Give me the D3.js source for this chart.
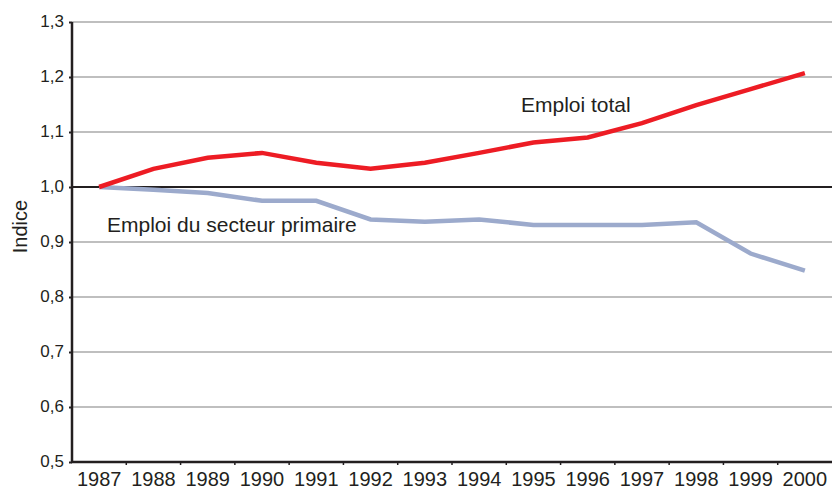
<!DOCTYPE html>
<html>
<head>
<meta charset="utf-8">
<script src="https://cdn.jsdelivr.net/npm/d3@7"></script>
<style>
  body { margin: 0; background: #fff; }
  text { font-family: "Liberation Sans", Arial, sans-serif; fill: #231f20; }
</style>
</head>
<body>
<div id="chart"></div>
<script>
var years = ["1987","1988","1989","1990","1991","1992","1993","1994","1995","1996","1997","1998","1999","2000"];
var emploiTotal = [1.000, 1.033, 1.053, 1.062, 1.044, 1.033, 1.044, 1.062, 1.081, 1.090, 1.116, 1.149, 1.178, 1.207];
var emploiPrimaire = [1.000, 0.995, 0.989, 0.975, 0.975, 0.941, 0.937, 0.941, 0.931, 0.931, 0.931, 0.936, 0.879, 0.848];
var yTicks = [0.5, 0.6, 0.7, 0.8, 0.9, 1.0, 1.1, 1.2, 1.3];

(function () {
  'use strict'

  var margin = {top: 22, right: 7, bottom: 33, left: 72},
      width = 839 - margin.left - margin.right,
      height = 495 - margin.top - margin.bottom;

  var svg = d3.select("#chart").append("svg")
      .attr("width", 839)
      .attr("height", 495)
      .append("g")
      .attr("transform", "translate(" + margin.left + "," + margin.top + ")");

  var x = d3.scaleBand().domain(years).range([0, width]);
  var y = d3.scaleLinear().domain([0.5, 1.3]).range([height, 0]);

  // gridlines
  svg.append("g")
    .selectAll("line")
    .data(yTicks.filter(function(d){ return d > 0.5; }))
    .enter().append("line")
    .attr("x1", 0)
    .attr("x2", width)
    .attr("y1", function(d){ return y(d); })
    .attr("y2", function(d){ return y(d); })
    .attr("stroke", function(d){ return d === 1.0 ? "#231f20" : "#808080"; })
    .attr("stroke-width", function(d){ return d === 1.0 ? 2 : 1.2; });

  var line = d3.line()
    .x(function(d, i){ return x(years[i]) + x.bandwidth()/2; })
    .y(function(d){ return y(d); });

  svg.append("path")
    .datum(emploiPrimaire)
    .attr("d", line)
    .attr("fill", "none")
    .attr("stroke", "#9caacc")
    .attr("stroke-width", 4.5);

  svg.append("path")
    .datum(emploiTotal)
    .attr("d", line)
    .attr("fill", "none")
    .attr("stroke", "#ed1c24")
    .attr("stroke-width", 4.5);

  // y axis
  var yAxis = svg.append("g")
    .call(d3.axisLeft(y).tickValues(yTicks).tickSize(3).tickPadding(5)
      .tickFormat(function(d){ return d3.format(".1f")(d).replace(".", ","); }));
  yAxis.select(".domain").remove();
  yAxis.selectAll(".tick line").attr("stroke", "#231f20").attr("stroke-width", 2);
  yAxis.selectAll(".tick text").attr("font-size", "17px").attr("dy", "0.26em").attr("fill", "#231f20");

  // x axis
  var xAxis = svg.append("g")
    .attr("transform", "translate(0," + height + ")")
    .call(d3.axisBottom(x).tickSize(0).tickPadding(12));
  xAxis.select(".domain").remove();
  xAxis.selectAll(".tick text").attr("font-size", "20px").attr("dy", "0.62em").attr("fill", "#231f20");

  svg.append("g")
    .selectAll("line")
    .data(years.slice(1))
    .enter().append("line")
    .attr("x1", function(d){ return x(d); })
    .attr("x2", function(d){ return x(d); })
    .attr("y1", height)
    .attr("y2", height + 3)
    .attr("stroke", "#231f20")
    .attr("stroke-width", 1.5);

  // axis lines
  svg.append("line")
    .attr("x1", 0).attr("x2", 0)
    .attr("y1", 0).attr("y2", height + 1)
    .attr("stroke", "#231f20").attr("stroke-width", 2.5);
  svg.append("line")
    .attr("x1", -1).attr("x2", width)
    .attr("y1", height).attr("y2", height)
    .attr("stroke", "#231f20").attr("stroke-width", 2.5);

  // labels
  svg.append("text")
    .attr("x", 449)
    .attr("y", 90)
    .attr("font-size", "21px")
    .text("Emploi total");

  svg.append("text")
    .attr("x", 35)
    .attr("y", 210)
    .attr("font-size", "21px")
    .text("Emploi du secteur primaire");

  svg.append("text")
    .attr("transform", "translate(" + (-45) + "," + 204.5 + ") rotate(-90)")
    .attr("text-anchor", "middle")
    .attr("font-size", "20px")
    .text("Indice");
})()
</script>
</body>
</html>
